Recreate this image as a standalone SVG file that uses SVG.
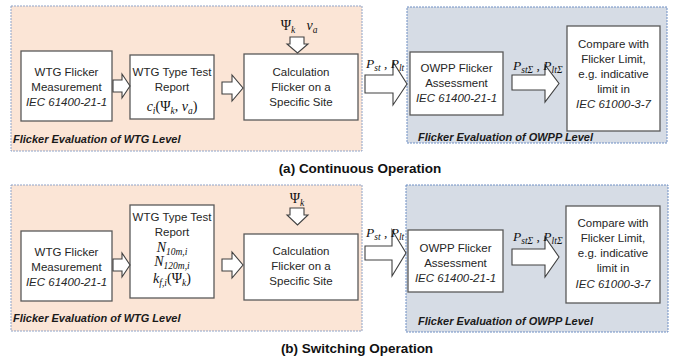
<svg xmlns="http://www.w3.org/2000/svg" width="675" height="356" viewBox="0 0 675 356">
<style>
.po{fill:#fbe5d6;stroke:#8fa3c8;stroke-width:1;stroke-dasharray:2,1}
.pb{fill:#d6dce5;stroke:#6f8fc4;stroke-width:1;stroke-dasharray:2,1}
.bx{fill:#fff;stroke:#595959;stroke-width:1.3}
.ar{fill:#fff;stroke:#404040;stroke-width:1.1;stroke-linejoin:miter}
.t{font-family:"Liberation Sans",Arial,sans-serif;font-size:11.5px;fill:#262626;text-anchor:middle}
.i{font-style:italic}
.pl{font-family:"Liberation Sans",Arial,sans-serif;font-size:11px;font-weight:bold;font-style:italic;fill:#1a1a1a}
.cap{font-family:"Liberation Sans",Arial,sans-serif;font-size:13.5px;font-weight:bold;fill:#111;text-anchor:middle}
.m{font-family:"Liberation Serif","Times New Roman",serif;font-size:14px;fill:#111;text-anchor:middle}
.ml{font-family:"Liberation Serif","Times New Roman",serif;font-size:13.5px;fill:#111}
.s{font-size:9.5px}
</style>
<g id="panel-wtg-a"><rect class="po" x="11" y="6" width="351" height="145"/><text class="pl" x="13" y="143">Flicker Evaluation of WTG Level</text></g>
<g id="panel-owpp-a"><rect class="pb" x="407" y="7" width="260" height="136"/><text class="pl" x="418" y="141">Flicker Evaluation of OWPP Level</text></g>
<g id="panel-wtg-b"><rect class="po" x="11" y="185" width="351" height="146"/><text class="pl" x="13" y="322">Flicker Evaluation of WTG Level</text></g>
<g id="panel-owpp-b"><rect class="pb" x="406" y="185" width="262" height="147"/><text class="pl" x="418" y="325">Flicker Evaluation of OWPP Level</text></g>

<g id="a-measure"><rect class="bx" x="21" y="51" width="91" height="70"/>
<text class="t" x="66.5" y="76">WTG Flicker</text><text class="t" x="66.5" y="91">Measurement</text><text class="t i" x="66.5" y="106">IEC 61400-21-1</text></g>
<g id="a-report"><rect class="bx" x="130" y="55" width="84" height="64"/>
<text class="t" x="172" y="76">WTG Type Test</text><text class="t" x="172" y="91">Report</text>
<text class="m" x="172" y="111"><tspan font-style="italic">c</tspan><tspan class="s" font-style="italic" dy="3">i</tspan><tspan dy="-3">(Ψ</tspan><tspan class="s" font-style="italic" dy="3">k</tspan><tspan dy="-3">, </tspan><tspan font-style="italic">v</tspan><tspan class="s" font-style="italic" dy="3">a</tspan><tspan dy="-3">)</tspan></text></g>
<g id="a-calc"><rect class="bx" x="244" y="54" width="114" height="66"/>
<text class="t" x="301" y="76">Calculation</text><text class="t" x="301" y="91">Flicker on a</text><text class="t" x="301" y="106">Specific Site</text></g>
<g id="a-input"><text class="m" x="288" y="30">Ψ<tspan class="s" font-style="italic" dy="3">k</tspan></text><text class="m" x="312" y="30"><tspan font-style="italic">v</tspan><tspan class="s" font-style="italic" dy="3">a</tspan></text></g>
<g id="a-owpp"><rect class="bx" x="410" y="52" width="93" height="63"/>
<text class="t" x="456.5" y="72">OWPP Flicker</text><text class="t" x="456.5" y="87">Assessment</text><text class="t i" x="456.5" y="102">IEC 61400-21-1</text></g>
<g id="a-compare"><rect class="bx" x="567" y="26" width="93" height="105"/>
<text class="t" x="613.5" y="48">Compare with</text><text class="t" x="613.5" y="63">Flicker Limit,</text><text class="t" x="613.5" y="78">e.g. indicative</text><text class="t" x="613.5" y="93">limit in</text><text class="t i" x="613.5" y="108">IEC 61000-3-7</text></g>

<g id="b-measure"><rect class="bx" x="21" y="231" width="91" height="70"/>
<text class="t" x="66.5" y="256">WTG Flicker</text><text class="t" x="66.5" y="271">Measurement</text><text class="t i" x="66.5" y="286">IEC 61400-21-1</text></g>
<g id="b-report"><rect class="bx" x="130" y="205" width="84" height="93"/>
<text class="t" x="172" y="221">WTG Type Test</text><text class="t" x="172" y="236">Report</text>
<text class="m" x="172" y="252"><tspan font-style="italic">N</tspan><tspan class="s" font-style="italic" dy="2.5">10m,i</tspan></text>
<text class="m" x="172" y="266"><tspan font-style="italic">N</tspan><tspan class="s" font-style="italic" dy="2.5">120m,i</tspan></text>
<text class="m" x="172" y="283"><tspan font-style="italic">k</tspan><tspan class="s" font-style="italic" dy="2.5">f,i</tspan><tspan dy="-2.5">(Ψ</tspan><tspan class="s" font-style="italic" dy="2.5">k</tspan><tspan dy="-2.5">)</tspan></text></g>
<g id="b-calc"><rect class="bx" x="244" y="234" width="114" height="66"/>
<text class="t" x="301" y="255">Calculation</text><text class="t" x="301" y="270">Flicker on a</text><text class="t" x="301" y="285">Specific Site</text></g>
<g id="b-input"><text class="m" x="297" y="203">Ψ<tspan class="s" font-style="italic" dy="3">k</tspan></text></g>
<g id="b-owpp"><rect class="bx" x="408" y="230" width="95" height="62"/>
<text class="t" x="455.5" y="252">OWPP Flicker</text><text class="t" x="455.5" y="267">Assessment</text><text class="t i" x="455.5" y="282">IEC 61400-21-1</text></g>
<g id="b-compare"><rect class="bx" x="566" y="206" width="94" height="97"/>
<text class="t" x="613" y="227">Compare with</text><text class="t" x="613" y="242">Flicker Limit,</text><text class="t" x="613" y="257">e.g. indicative</text><text class="t" x="613" y="272">limit in</text><text class="t i" x="613" y="288">IEC 61000-3-7</text></g>

<g id="connectors">
<polygon class="ar" points="113,80 122,80 122,74 130,86 122,98 122,92 113,92"/>
<polygon class="ar" points="222,82 232,82 232,75 243,88 232,101 232,94 222,94"/>
<polygon class="ar" points="290,37 304,37 304,44 308,44 297.5,53 287,44 290,44"/>
<polygon class="ar" points="365,75 393,75 393,62 407,84 393,105 393,93 365,93"/>
<polygon class="ar" points="512,75 545,75 545,65 559,83.5 545,102 545,90 512,90"/>
<text class="ml" x="366" y="68"><tspan font-style="italic">P</tspan><tspan class="s" font-style="italic" dy="2.5">st</tspan><tspan dy="-2.5"> , </tspan><tspan font-style="italic">P</tspan><tspan class="s" font-style="italic" dy="2.5">lt</tspan></text>
<text class="ml" x="513" y="70"><tspan font-style="italic">P</tspan><tspan class="s" font-style="italic" dy="2.5">stΣ</tspan><tspan dy="-2.5"> , </tspan><tspan font-style="italic">P</tspan><tspan class="s" font-style="italic" dy="2.5">ltΣ</tspan></text>

<polygon class="ar" points="113,259 122,259 122,253 130,265 122,277 122,271 113,271"/>
<polygon class="ar" points="222,259 232,259 232,252 243,265 232,278 232,271 222,271"/>
<polygon class="ar" points="290,208 304,208 304,215 308,215 297.5,225 287,215 290,215"/>
<polygon class="ar" points="365,246 392,246 392,230 406,253 392,276 392,260 365,260"/>
<polygon class="ar" points="512,249 545,249 545,237 559,257 545,277 545,265 512,265"/>
<text class="ml" x="366" y="237"><tspan font-style="italic">P</tspan><tspan class="s" font-style="italic" dy="2.5">st</tspan><tspan dy="-2.5"> , </tspan><tspan font-style="italic">P</tspan><tspan class="s" font-style="italic" dy="2.5">lt</tspan></text>
<text class="ml" x="513" y="241"><tspan font-style="italic">P</tspan><tspan class="s" font-style="italic" dy="2.5">stΣ</tspan><tspan dy="-2.5"> , </tspan><tspan font-style="italic">P</tspan><tspan class="s" font-style="italic" dy="2.5">ltΣ</tspan></text>
</g>
<text class="cap" x="360" y="173">(a) Continuous Operation</text>
<text class="cap" x="357" y="353">(b) Switching Operation</text>
</svg>
